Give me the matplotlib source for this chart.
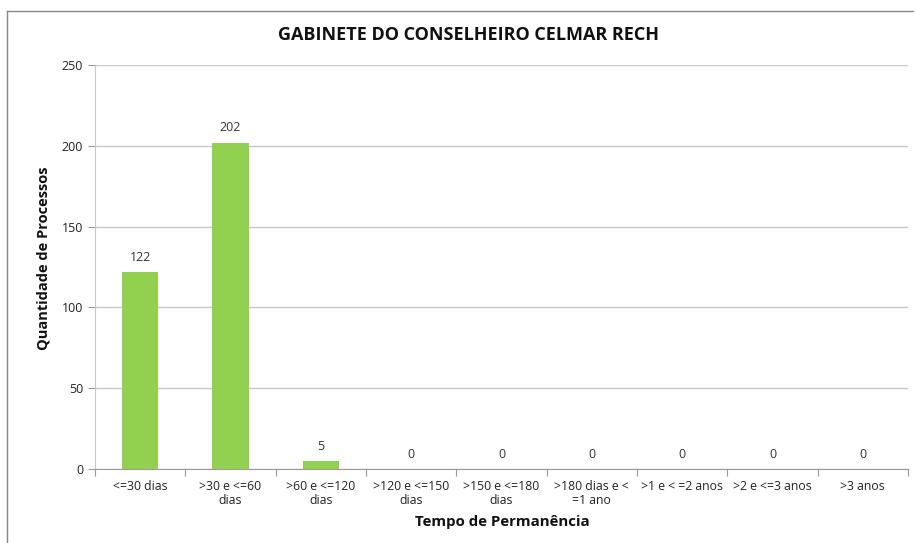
import matplotlib.pyplot as plt
from matplotlib.lines import Line2D

# data
categorias = ["<=30 dias", ">30 e <=60\ndias", ">60 e <=120\ndias", ">120 e <=150\ndias",
              ">150 e <=180\ndias", ">180 dias e <\n=1 ano", ">1 e < =2 anos",
              ">2 e <=3 anos", ">3 anos"]
processos = [122, 202, 5, 0, 0, 0, 0, 0, 0]

plt.rcParams['font.family'] = ['Open Sans', 'DejaVu Sans']

fig = plt.figure(figsize=(9.17, 5.43), dpi=100)
ax = fig.add_axes([95/917, 1-469/543, (908-95)/917, (469-65)/543])

x = list(range(len(categorias)))
bars = ax.bar(x, processos, width=0.4, color='#92D050', zorder=3)
for b, v in zip(bars, processos):
    ax.text(b.get_x() + b.get_width()/2, v + 5, str(v), ha='center', va='bottom',
            fontsize=9, color='#333333')

ax.set_xlim(-0.5, len(categorias) - 0.5)
ax.set_ylim(0, 250)
ax.set_yticks(range(0, 251, 50))
ax.yaxis.grid(True, color='#c8c8c8', lw=1)
ax.set_axisbelow(True)

ax.set_xticks([i + 0.5 for i in range(-1, len(categorias))])
ax.set_xticklabels([])
ax.set_xticks(x, minor=True)
ax.set_xticklabels(categorias, minor=True, fontsize=8.8, color='#222222', linespacing=1.1)
ax.tick_params(axis='x', which='minor', length=0, pad=8)
ax.tick_params(axis='x', which='major', length=5, color='#999999')
ax.tick_params(axis='y', length=5, color='#999999', labelsize=9, labelcolor='#222222')

for s in ['top', 'right']:
    ax.spines[s].set_visible(False)
ax.spines['left'].set_color('#c8c8c8')
ax.spines['bottom'].set_color('#999999')

fig.text(468/917, 1-35/543, "GABINETE DO CONSELHEIRO CELMAR RECH", ha='center', va='center',
         fontsize=13, fontweight='bold', color='#111111')
fig.text(502/917, 1-522/543, "Tempo de Permanência", ha='center', va='center',
         fontsize=10.8, fontweight='bold', color='#111111')
fig.text(44/917, 1-258/543, "Quantidade de Processos", ha='center', va='center',
         rotation=90, fontsize=10.5, fontweight='bold', color='#111111')

# chart border
fig.add_artist(Line2D([7/917, 7/917], [0, 1-11/543], color='#888888', lw=1))
fig.add_artist(Line2D([7/917, 913/917], [1-11/543, 1-11/543], color='#888888', lw=1))

fig.savefig("out.png", dpi=100)
